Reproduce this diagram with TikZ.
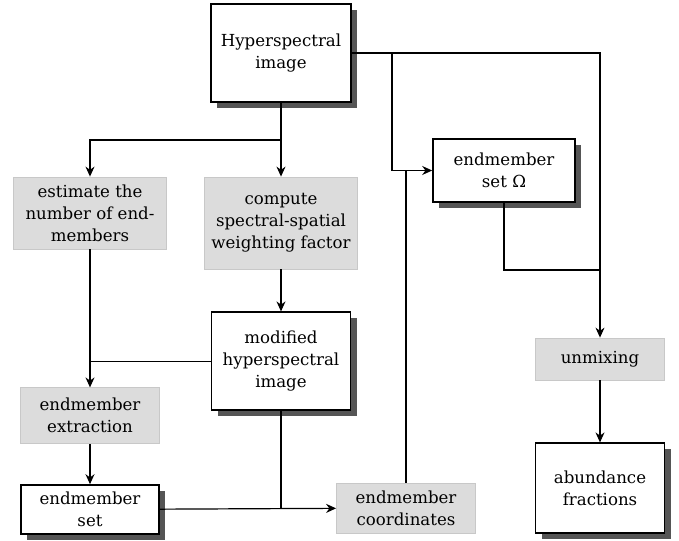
\documentclass[tikz,border=0pt]{standalone}
\usepackage{fontspec}
\setmainfont{DejaVu Serif}
\usetikzlibrary{positioning,arrows.meta,shadows}
\definecolor{procfill}{RGB}{220,220,220}
\definecolor{procedge}{RGB}{200,200,200}
\definecolor{shadowcolor}{RGB}{85,85,85}

\begin{document}
\begin{tikzpicture}[
    x=0.5pt, y=-0.5pt,
    data/.style={rectangle, draw, line width=0.8pt, fill=white, align=center, inner sep=2pt,
        font=\fontsize{8.3}{11}\selectfont,
        drop shadow={shadow xshift=3pt, shadow yshift=-3pt, fill=shadowcolor, opacity=1}},
    proc/.style={rectangle, draw=procedge, fill=procfill, align=center, inner sep=2pt,
        font=\fontsize{8.3}{11}\selectfont},
    arrow/.style={-{Stealth[length=5pt,width=4.5pt]}, line width=0.6pt},
    link/.style={line width=0.6pt}
]
\useasboundingbox (0,0) rectangle (679,540);

% ===== NODES =====
\node[data, minimum width=70pt, minimum height=49pt] (hyper) at (281,53) {Hyperspectral\\image};

\node[proc, minimum width=76.5pt, minimum height=36pt] (estimate) at (90,213) {estimate the\\number of end-\\members};
\node[proc, minimum width=76.5pt, minimum height=46pt] (compute) at (281,223) {compute\\spectral-spatial\\weighting factor};

\node[data, minimum width=69.5pt, minimum height=49pt, below=21pt of compute] (modified) {modified\\hyperspectral\\image};
\node[proc, minimum width=69.5pt, minimum height=28pt, below=69pt of estimate] (extract) {endmember\\extraction};
\node[data, minimum width=69pt, minimum height=24.5pt, below=20pt of extract] (eset) {endmember\\set};

\node[proc, minimum width=69.5pt, minimum height=25pt] (coords) at (406,508) {endmember\\coordinates};
\node[data, minimum width=71pt, minimum height=31.5pt] (omega) at (504,170.5) {endmember\\set Ω};

\node[proc, minimum width=64.5pt, minimum height=21pt] (unmix) at (600,359) {unmixing};
\node[data, minimum width=64.5pt, minimum height=45pt, below=31pt of unmix] (abund) {abundance\\fractions};

% ===== HELPER POINTS =====
\coordinate (split) at (281,140);
\coordinate (turn) at (392,53);
\coordinate (merge) at (600,270);

% ===== ARROWS - LEFT BRANCH =====
\draw[arrow] (hyper.south) -- (compute.north);
\draw[arrow] (split) -| (estimate.north);
\draw[arrow] (compute) -- (modified);
\draw[arrow] (estimate) -- (extract);
\draw[link] (modified.west) -- (modified.west -| extract.north);
\draw[arrow] (extract) -- (eset);
\draw[arrow] (eset) -- (coords);
\draw[link] (modified.south) -- (modified.south |- coords.west);

% ===== ARROWS - RIGHT BRANCH =====
\draw[arrow] (hyper.east) -- (turn) |- (omega.west);
\draw[link] (coords.north) -- (coords.north |- omega.west);
\draw[arrow] (turn) -| (unmix.north);
\draw[link] (omega.south) |- (merge);
\draw[arrow] (unmix) -- (abund);

\end{tikzpicture}
\end{document}
